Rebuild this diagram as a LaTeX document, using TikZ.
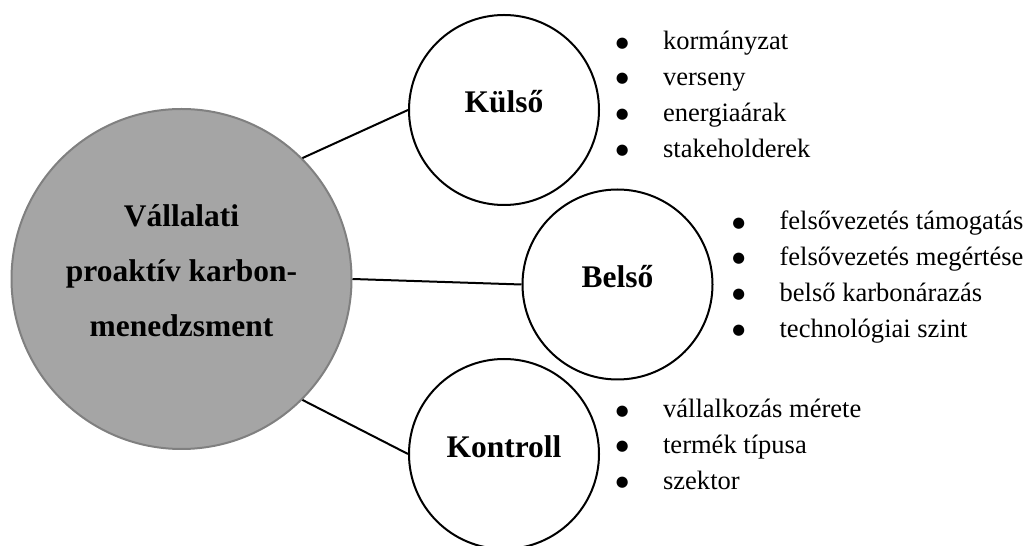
\documentclass[tikz,border=0pt]{standalone}
\usepackage{fontspec}
\setmainfont{Liberation Serif}
\newfontfamily\dotfont{DejaVu Sans}
\usetikzlibrary{shapes, positioning}
\definecolor{corefill}{RGB}{165,165,165}
\definecolor{coreline}{RGB}{128,128,128}
\tikzstyle{core} = [circle, draw=coreline, fill=corefill, line width=1.5pt, minimum size=255pt, inner sep=0pt]
\tikzstyle{factor} = [circle, draw=black, line width=1.5pt, minimum size=142.5pt, inner sep=0pt]
\tikzstyle{title} = [font=\bfseries\fontsize{23.6}{41.25}\selectfont, inner sep=0pt, align=center]
\tikzstyle{items} = [font=\fontsize{19.9}{26.8}\selectfont, inner sep=0pt, anchor=base west]
\tikzstyle{line} = [line width=1.5pt, -]
\newcommand{\bul}[1]{\makebox[35.5pt][l]{\raisebox{2.2pt}{\dotfont\fontsize{11}{11}\selectfont ●}}#1}

\begin{document}
\begin{tikzpicture}[x=0.75pt, y=0.75pt]
\useasboundingbox (0,0) rectangle (1025,546);
\node (core) [core] at (181.5,267) {};
\node (coretext) [title] at (181.5,275) {Vállalati\\proaktív karbon-\\menedzsment};
\node (kulso) [factor] at (504,436) {};
\node (belso) [factor] at (617.5,261.5) {};
\node (kontroll) [factor] at (504,92) {};
\node (kulsotxt) [title, anchor=base] at (504,433) {Külső};
\node (belsotxt) [title, anchor=base] at (617.5,258) {Belső};
\node (kontrolltxt) [title, anchor=base] at (504,88.5) {Kontroll};

% factor lists
\node (kulsolist) [items] at (615.5,496) {\begin{tabular}[t]{@{}l@{}}
  \bul{kormányzat}\\ \bul{verseny}\\ \bul{energiaárak}\\ \bul{stakeholderek}
\end{tabular}};
\node (belsolist) [items] at (732,316) {\begin{tabular}[t]{@{}l@{}}
  \bul{felsővezetés támogatás}\\ \bul{felsővezetés megértése}\\ \bul{belső karbonárazás}\\ \bul{technológiai szint}
\end{tabular}};
\node (kontrolllist) [items] at (615.5,128) {\begin{tabular}[t]{@{}l@{}}
  \bul{vállalkozás mérete}\\ \bul{termék típusa}\\ \bul{szektor}
\end{tabular}};

\draw [line] (core.45) -- (kulso.west);
\draw [line] (core.east) -- (belso.west);
\draw [line] (core.-45) -- (kontroll.west);
\end{tikzpicture}
\end{document}
